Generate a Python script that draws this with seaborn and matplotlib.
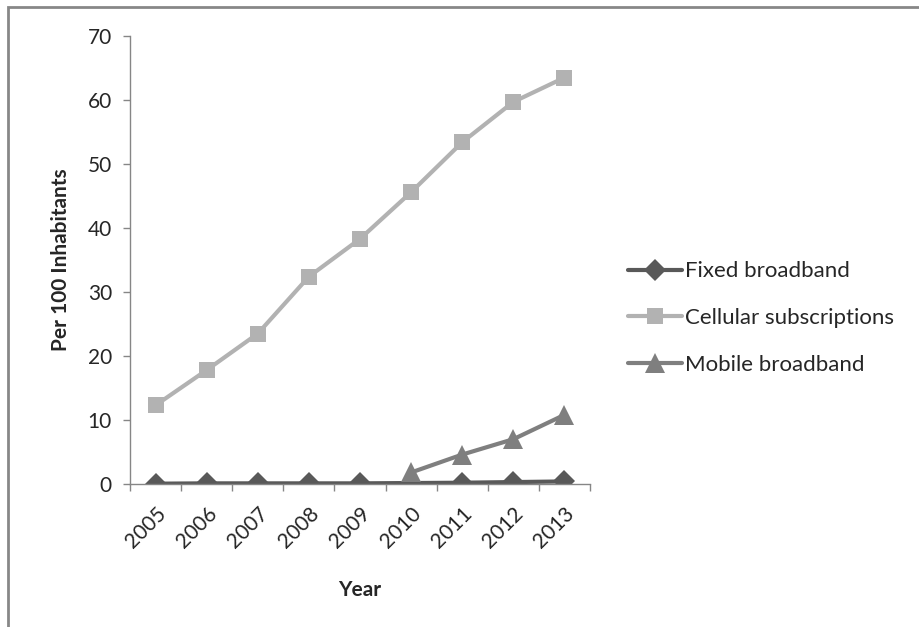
import numpy as np
import pandas as pd
import matplotlib
matplotlib.use("Agg")
import matplotlib.pyplot as plt
import seaborn as sns
from matplotlib.patches import Rectangle

years = ["2005", "2006", "2007", "2008", "2009", "2010", "2011", "2012", "2013"]
fixed_broadband = [0.05, 0.1, 0.1, 0.1, 0.1, 0.15, 0.2, 0.3, 0.4]
cellular = [12.3, 17.8, 23.5, 32.4, 38.3, 45.6, 53.4, 59.7, 63.5]
mobile_broadband = [np.nan, np.nan, np.nan, np.nan, np.nan, 1.8, 4.6, 7.0, 10.8]

series_names = ["Fixed broadband", "Cellular subscriptions", "Mobile broadband"]
colors = {"Fixed broadband": "#595959",
          "Cellular subscriptions": "#b2b2b2",
          "Mobile broadband": "#7f7f7f"}
markers = {"Fixed broadband": "D",
           "Cellular subscriptions": "s",
           "Mobile broadband": "^"}
marker_sizes = {"Fixed broadband": 11, "Cellular subscriptions": 12, "Mobile broadband": 15}

sns.set_theme(style="white")
plt.rcParams['font.family'] = ['Lato', 'DejaVu Sans']

fig = plt.figure(figsize=(9.2, 6.27), dpi=100)
ax = fig.add_axes([130 / 920, 1 - 484 / 627, 460 / 920, 448 / 627])

pos = np.arange(len(years))
for name, vals in zip(series_names, [fixed_broadband, cellular, mobile_broadband]):
    df = pd.DataFrame({"pos": pos, "value": vals}).dropna()
    sns.lineplot(data=df, x="pos", y="value", ax=ax, color=colors[name],
                 marker=markers[name], markersize=marker_sizes[name],
                 markeredgewidth=0, linewidth=3, label=name)

ax.set_xlim(-0.5, len(years) - 0.5)
ax.set_ylim(0, 70)
ax.set_yticks(range(0, 71, 10))
ax.set_xticks(pos)
ax.set_xticklabels(years, rotation=45, ha="right", rotation_mode="anchor")
ax.set_xticks(np.arange(-0.5, len(years), 1), minor=True)
ax.tick_params(axis="x", which="major", length=0, pad=14, labelsize=15)
ax.tick_params(axis="x", which="minor", length=5, width=1, color="#868686", direction="out", bottom=True)
ax.tick_params(axis="y", length=5, width=1, color="#868686", direction="out", left=True, labelsize=15, pad=8)

for side in ["top", "right"]:
    ax.spines[side].set_visible(False)
for side in ["left", "bottom"]:
    ax.spines[side].set_color("#868686")
    ax.spines[side].set_linewidth(1)

ax.set_xlabel("Year", fontsize=15, fontweight="bold", labelpad=20)
ax.set_ylabel("Per 100 Inhabitants", fontsize=15, fontweight="bold", labelpad=12)

ax.legend(loc="center left", bbox_to_anchor=(628 / 920, 1 - 318 / 627),
          bbox_transform=fig.transFigure, frameon=False, fontsize=16,
          borderaxespad=0, borderpad=0,
          handlelength=2.45, handletextpad=0.1, labelspacing=1.2)

# outer chart border (left and top visible in the reference)
fig.patches.append(Rectangle((8 / 920, -0.1), 1.2, 1 - 7 / 627 + 0.1, transform=fig.transFigure,
                             fill=False, edgecolor="#878787", linewidth=2, zorder=0))

fig.savefig("out.png", dpi=100)
